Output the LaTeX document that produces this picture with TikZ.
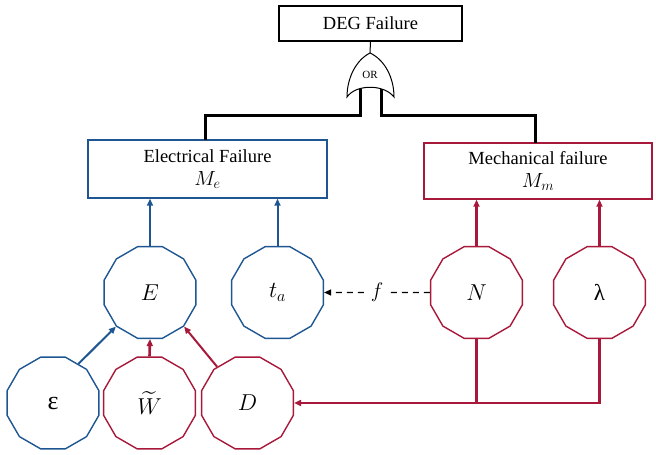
\RequirePackage{fix-cm}
\documentclass[tikz,border=0pt]{standalone}
\usepackage{amsmath}
\usepackage{fontspec}
\setmainfont{Liberation Serif}
\newfontfamily\greekfont{Liberation Serif}
\usetikzlibrary{shapes.geometric,arrows.meta}
\definecolor{eblue}{RGB}{30,86,146}
\definecolor{mred}{RGB}{167,24,58}
\tikzset{
  big/.style={font=\fontsize{18.5}{25}\selectfont},
  huge/.style={font=\fontsize{23}{26}\selectfont},
  box/.style={draw, line width=1.4pt, rectangle, inner sep=0pt, align=center, big},
  dodec/.style={draw, regular polygon, regular polygon sides=12, minimum size=95pt, inner sep=0pt, line width=1.4pt, huge},
  wire/.style={line width=3pt, black},
  tip/.style={-{Triangle[length=7pt,width=6pt]}},
  thickarr/.style={tip, line width=2.6pt},
  thinarr/.style={tip, line width=2pt},
}
\newcommand{\boxmath}[1]{{\fontsize{20.5}{25}\selectfont$#1$}}
\begin{document}
\begin{tikzpicture}[x=1pt,y=-1pt]
\useasboundingbox (0,0) rectangle (656,455);

% top
\node[box, minimum width=183pt, minimum height=35pt] (deg) at (370.5,23.5) {DEG Failure};

% OR gate
\coordinate (gtop) at (370,53);
\coordinate (gl) at (360,89);
\coordinate (gr) at (381,89);
\draw[line width=1pt] (deg.south) -- (gtop);
\draw[line width=1pt, fill=white] (gtop) .. controls (356,60) and (347,78) .. (347,97)
  .. controls (356,84) and (384,84) .. (394,97)
  .. controls (394,78) and (385,60) .. (gtop) -- cycle;
\node[font=\fontsize{11}{12}\selectfont] (ortext) at (370,75) {OR};

% middle boxes
\node[box, draw=eblue, minimum width=239pt, minimum height=58pt] (elec) at (207.5,169)
  {Electrical Failure\\[-2pt]\boxmath{M_e}};
\node[box, draw=mred, minimum width=228pt, minimum height=56pt] (mech) at (538,171)
  {Mechanical failure\\[-2pt]\boxmath{M_m}};

\coordinate (el) at (205,140);
\coordinate (mr) at (535,143);
\draw[wire] (gl) -- ++(0,26) -| (el);
\draw[wire] (gr) -- ++(0,26) -| (mr);

% dodecagons
\node[dodec, draw=eblue] (E) at (150,292.5) {$E$};
\node[dodec, draw=eblue] (ta) at (277.5,292.5) {$t_a$};
\node[dodec, draw=mred] (N) at (476.5,292.5) {$N$};
\node[dodec, draw=mred] (lam) at (599.5,292.5) {\greekfont\fontsize{23}{25}\selectfont λ};
\node[dodec, draw=eblue] (eps) at (53,403) {\greekfont\fontsize{26}{25}\selectfont ε};
\node[dodec, draw=mred] (W) at (149.5,403) {$\widetilde{W}$};
\node[dodec, draw=mred] (D) at (247.5,403) {$D$};

% arrows into boxes
\draw[thickarr, eblue] (E.north) -- (E.north |- elec.south);
\draw[thinarr, eblue] (ta.north) -- (ta.north |- elec.south);
\draw[thickarr, mred] (N.north) -- (N.north |- mech.south);
\draw[thickarr, mred] (lam.north) -- (lam.north |- mech.south);

% into E
\draw[thinarr, eblue] (eps.57) -- (E.225);
\draw[thickarr, mred] (W.north) -- (E.south);
\draw[thinarr, mred] (D.130) -- (E.-45);

% f dashed
\draw[tip, line width=1.4pt, dash pattern=on 6pt off 5pt] (N.west) -- node[fill=white, font=\fontsize{21}{24}\selectfont, inner sep=4pt] (f) {$f$} (ta.east);

% feedback to D
\coordinate (j1) at (N.south |- D.east);
\coordinate (j2) at (lam.south |- D.east);
\draw[line width=2.4pt, mred] (N.south) -- (j1);
\draw[tip, line width=2.4pt, mred] (lam.south) -- (j2) -- (D.east);
\end{tikzpicture}
\end{document}
